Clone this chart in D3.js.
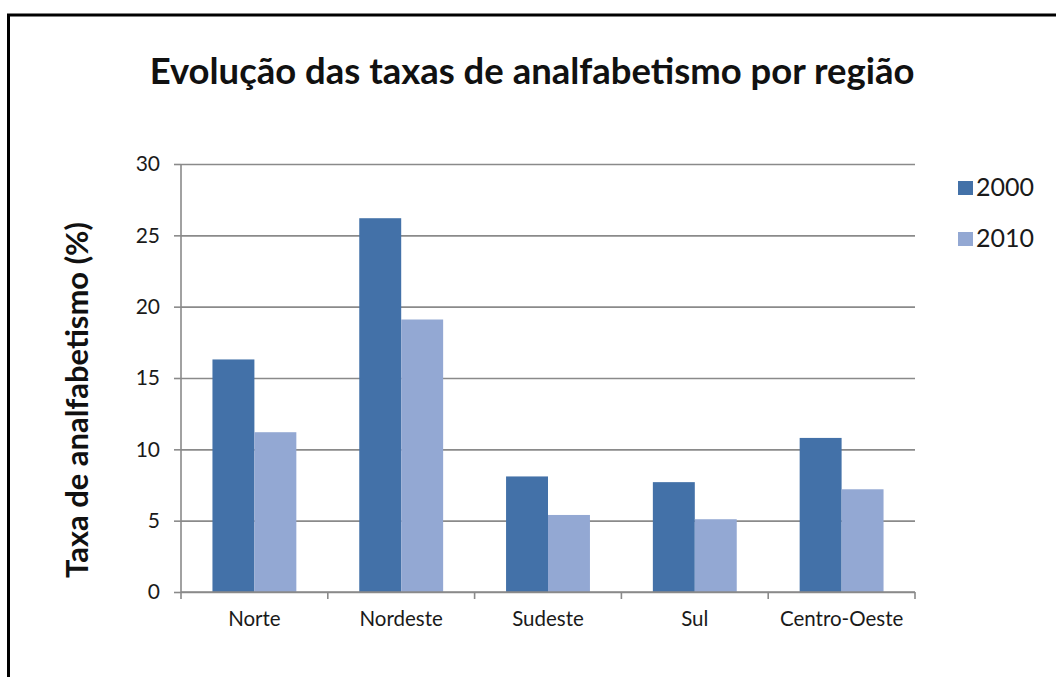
<!DOCTYPE html>
<html>
<head>
<meta charset="utf-8">
<script src="https://cdn.jsdelivr.net/npm/d3@7"></script>
<style>
  body { margin: 0; background: #fff; }
  svg { display: block; font-family: Lato, "Open Sans", sans-serif; }
</style>
</head>
<body>
<script>
// Data
const regions = ["Norte", "Nordeste", "Sudeste", "Sul", "Centro-Oeste"];
const years = ["2000", "2010"];
const values2000 = [16.3, 26.2, 8.1, 7.7, 10.8];
const values2010 = [11.2, 19.1, 5.4, 5.1, 7.2];
const yTicks = [0, 5, 10, 15, 20, 25, 30];
const colors = ["#4371a8", "#93a8d3"];

const w = 1056, h = 677;
const plot = { left: 181, right: 915, top: 164, bottom: 592 };

const rows = regions.map((r, i) => ({ region: r, vals: [values2000[i], values2010[i]] }));

const svg = d3.select("body").append("svg")
  .attr("width", w)
  .attr("height", h);

// Frame (only left and top visible)
svg.append("path")
  .attr("d", `M8.5,${h} L8.5,15 L${w},15`)
  .attr("fill", "none")
  .attr("stroke", "#000")
  .attr("stroke-width", 3);

// Scales
const y = d3.scaleLinear().domain([0, 30]).range([plot.bottom, plot.top]);
const x0 = d3.scaleBand().domain(regions).range([plot.left, plot.right]).padding(0);
const x1 = d3.scaleBand().domain(years).range([0, x0.bandwidth()])
  .paddingInner(0).paddingOuter(0.75);

// Gridlines
svg.append("g")
  .attr("transform", `translate(${plot.left},0)`)
  .call(d3.axisLeft(y).tickValues(yTicks).tickSize(-(plot.right - plot.left)).tickFormat(""))
  .call(g => g.select(".domain").remove())
  .call(g => g.selectAll("line").attr("stroke", "#8a8a8a").attr("stroke-width", 1.6));

// Bars
const groups = svg.append("g").selectAll("g")
  .data(rows)
  .join("g")
  .attr("transform", d => `translate(${x0(d.region)},0)`);

groups.selectAll("rect")
  .data(d => d.vals.map((v, i) => ({ year: years[i], value: v, i })))
  .join("rect")
  .attr("x", d => x1(d.year))
  .attr("y", d => y(d.value))
  .attr("width", x1.bandwidth())
  .attr("height", d => y(0) - y(d.value))
  .attr("fill", d => colors[d.i]);

// Y axis
svg.append("g")
  .attr("transform", `translate(${plot.left},0)`)
  .call(d3.axisLeft(y).tickValues(yTicks).tickSize(7).tickPadding(14))
  .call(g => g.select(".domain").attr("stroke", "#8a8a8a").attr("stroke-width", 1.6)
    .attr("d", `M0,${plot.top}V${plot.bottom}`))
  .call(g => g.selectAll("line").attr("stroke", "#8a8a8a").attr("stroke-width", 1.6))
  .call(g => g.selectAll("text").attr("font-size", 21).attr("fill", "#1a1a1a")
    .attr("font-family", "Lato, sans-serif"));

// X axis baseline and category separators
const xAxis = svg.append("g");
xAxis.append("line")
  .attr("x1", plot.left).attr("x2", plot.right)
  .attr("y1", plot.bottom).attr("y2", plot.bottom)
  .attr("stroke", "#8a8a8a").attr("stroke-width", 1.6);
const bounds = regions.map(r => x0(r)).concat([x0.range()[1]]);
xAxis.selectAll(".sep")
  .data(bounds)
  .join("line")
  .attr("class", "sep")
  .attr("x1", d => d).attr("x2", d => d)
  .attr("y1", plot.bottom).attr("y2", plot.bottom + 7)
  .attr("stroke", "#8a8a8a").attr("stroke-width", 1.6);
xAxis.selectAll(".lbl")
  .data(regions)
  .join("text")
  .attr("class", "lbl")
  .attr("x", d => x0(d) + x0.bandwidth() / 2)
  .attr("y", plot.bottom + 34)
  .attr("text-anchor", "middle")
  .attr("font-size", 20.5)
  .attr("fill", "#1a1a1a")
  .text(d => d);

// Title
const title = svg.append("text")
  .attr("x", 532)
  .attr("y", 84)
  .attr("text-anchor", "middle")
  .attr("font-size", 32)
  .attr("font-weight", "bold")
  .attr("fill", "#111")
  .text("Evolução das taxas de analfabetismo por região");
fitWidth(title, 765);

// Y axis title
const yTitle = svg.append("text")
  .attr("transform", "translate(88,400) rotate(-90)")
  .attr("text-anchor", "middle")
  .attr("font-size", 21)
  .attr("font-weight", "bold")
  .attr("fill", "#111")
  .text("Taxa de analfabetismo (%)");
fitWidth(yTitle, 356);

// Legend
const legend = svg.append("g").attr("transform", "translate(958,181)");
const item = legend.selectAll("g")
  .data(years)
  .join("g")
  .attr("transform", (d, i) => `translate(0,${i * 51})`);
item.append("rect")
  .attr("width", 15).attr("height", 14)
  .attr("fill", (d, i) => colors[i]);
item.append("text")
  .attr("x", 18).attr("y", 15)
  .attr("font-size", 25)
  .attr("fill", "#1a1a1a")
  .text(d => d);

function fitWidth(sel, target) {
  const len = sel.node().getComputedTextLength();
  const fs = +sel.attr("font-size");
  sel.attr("font-size", fs * target / len);
}
</script>
</body>
</html>
